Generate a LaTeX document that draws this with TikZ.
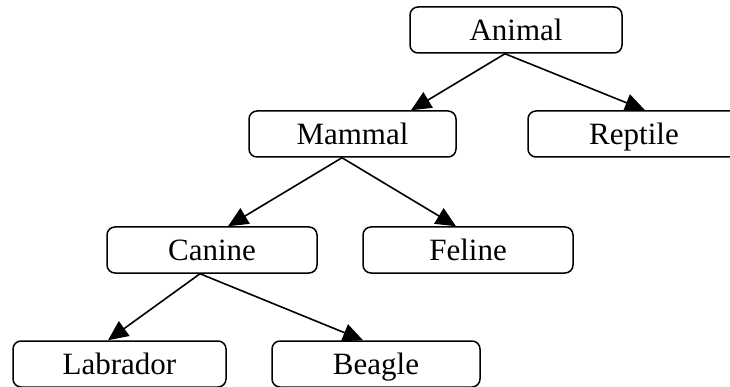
\documentclass[tikz,border=0pt]{standalone}
\usepackage{fontspec}
\setmainfont{Liberation Serif}
\usetikzlibrary{arrows.meta,backgrounds}

\tikzset{
  taxon/.style={draw=black, line width=1.5pt, fill=white, rounded corners=8pt,
    minimum height=46pt, inner sep=0pt, text height=23pt, text depth=2pt,
    font=\fontsize{31}{36}\selectfont},
  link/.style={draw=black, line width=1.6pt,
    -{Triangle[length=20pt,width=18pt]}}
}

\begin{document}
\begin{tikzpicture}[x=1pt, y=-1pt]
  \useasboundingbox (0,0) rectangle (730,387);

  % class hierarchy boxes
  \node[taxon, minimum width=212pt] (animal)   at (516,30)    {Animal};
  \node[taxon, minimum width=207pt] (mammal)   at (352.5,134) {Mammal};
  \node[taxon, minimum width=212pt] (reptile)  at (634,134)   {Reptile};
  \node[taxon, minimum width=210pt] (canine)   at (212,250)   {Canine};
  \node[taxon, minimum width=210pt] (feline)   at (468,250)   {Feline};
  \node[taxon, minimum width=213pt] (labrador) at (119.5,364) {Labrador};
  \node[taxon, minimum width=208pt] (beagle)   at (376,364)   {Beagle};

  % inheritance arrows, drawn behind the boxes
  \begin{scope}[on background layer]
    \draw[link] ([xshift=-11pt]animal.south) -- ([xshift=58.5pt]mammal.north);
    \draw[link] ([xshift=-11pt]animal.south) -- ([xshift=11pt]reptile.north);
    \draw[link] ([xshift=-10.5pt]mammal.south) -- ([xshift=16pt]canine.north);
    \draw[link] ([xshift=-10.5pt]mammal.south) -- ([xshift=-12pt]feline.north);
    \draw[link] ([xshift=-12pt]canine.south) -- ([xshift=-11.5pt]labrador.north);
    \draw[link] ([xshift=-12pt]canine.south) -- ([xshift=-13pt]beagle.north);
  \end{scope}
\end{tikzpicture}
\end{document}
